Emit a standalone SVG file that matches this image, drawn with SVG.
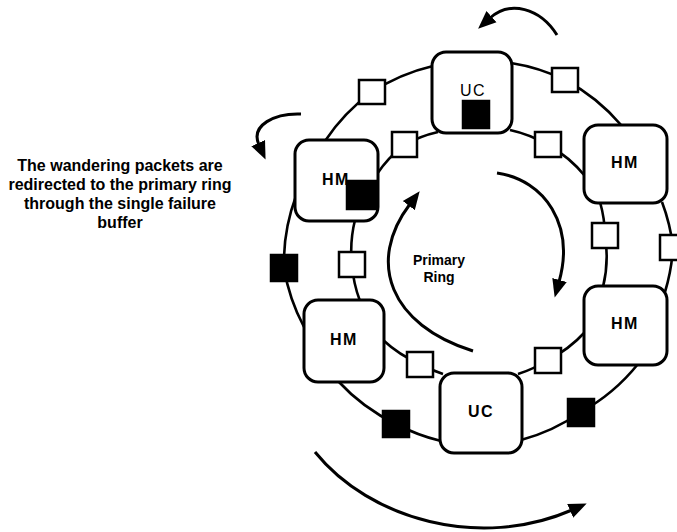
<svg xmlns="http://www.w3.org/2000/svg" width="677" height="532" viewBox="0 0 677 532">
<style>
  .ring { fill: none; stroke: #000; stroke-width: 2.6; }
  .box { fill: #fff; stroke: #000; stroke-width: 3; }
  .sq { fill: #fff; stroke: #000; stroke-width: 2.5; }
  .bsq { fill: #000; stroke: #000; stroke-width: 2.5; }
  .arrow { fill: none; stroke: #000; stroke-width: 3; }
  .lbl { font-family: "Liberation Sans", Arial, sans-serif; font-size: 16px; font-weight: bold; letter-spacing: 1.5px; text-anchor: middle; fill: #000; }
  .note { font-family: "Liberation Sans", Arial, sans-serif; font-size: 16px; font-weight: bold; text-anchor: middle; fill: #000; }
  .pr { font-family: "Liberation Sans", Arial, sans-serif; font-size: 14px; font-weight: bold; text-anchor: middle; fill: #000; }
</style>
<defs>
  <marker id="ah" markerUnits="userSpaceOnUse" markerWidth="20" markerHeight="18" viewBox="0 -9 20 18" refX="2" refY="0" orient="auto">
    <path d="M0,-7.5 L18,0 L0,7.5 z" fill="#000"/>
  </marker>
</defs>
<rect width="677" height="532" fill="#fff"/>

<g id="connectors">
  <path class="ring" d="M 325 141 A 192 192 0 0 1 372 92"/>
  <path class="ring" d="M 372 92 A 192 192 0 0 1 433 66"/>
  <path class="ring" d="M 511 63 A 192 192 0 0 1 565 80"/>
  <path class="ring" d="M 565 80 A 192 192 0 0 1 622 126"/>
  <path class="ring" d="M 662 202 A 192 192 0 0 1 673 247"/>
  <path class="ring" d="M 673 247 A 192 192 0 0 1 665 292"/>
  <path class="ring" d="M 638 364 A 192 192 0 0 1 581 412"/>
  <path class="ring" d="M 581 412 A 192 192 0 0 1 521 440"/>
  <path class="ring" d="M 441 441 A 192 192 0 0 1 396 424"/>
  <path class="ring" d="M 396 424 A 192 192 0 0 1 338 381"/>
  <path class="ring" d="M 304 327 A 192 192 0 0 1 284 268"/>
  <path class="ring" d="M 284 268 A 192 192 0 0 1 296 196"/>

  <path class="ring" d="M 377 174 A 128 128 0 0 1 404 145"/>
  <path class="ring" d="M 404 145 A 128 128 0 0 1 438 132"/>
  <path class="ring" d="M 510 130 A 128 128 0 0 1 548 145"/>
  <path class="ring" d="M 548 145 A 128 128 0 0 1 585 176"/>
  <path class="ring" d="M 600 202 A 128 128 0 0 1 605 236"/>
  <path class="ring" d="M 605 236 A 128 128 0 0 1 603 287"/>
  <path class="ring" d="M 585 332 A 128 128 0 0 1 548 360"/>
  <path class="ring" d="M 548 360 A 128 128 0 0 1 518 374"/>
  <path class="ring" d="M 443 374 A 128 128 0 0 1 420 364"/>
  <path class="ring" d="M 420 364 A 128 128 0 0 1 383 340"/>
  <path class="ring" d="M 360 301 A 128 128 0 0 1 352 265"/>
  <path class="ring" d="M 352 265 A 128 128 0 0 1 355 220"/>
</g>

<g id="uc_top">
  <rect class="box" x="432" y="52" width="80" height="81" rx="14"/>
  <text class="lbl" x="473" y="96" style="font-weight:normal">UC</text>
  <rect class="bsq" x="463" y="101" width="26" height="27"/>
</g>
<g id="hm_top_right">
  <rect class="box" x="584" y="125" width="83" height="78" rx="14"/>
  <text class="lbl" x="625" y="168">HM</text>
</g>
<g id="hm_bottom_right">
  <rect class="box" x="584" y="286" width="83" height="79" rx="14"/>
  <text class="lbl" x="625" y="329">HM</text>
</g>
<g id="uc_bottom">
  <rect class="box" x="440" y="373" width="82" height="80" rx="14"/>
  <text class="lbl" x="481" y="417">UC</text>
</g>
<g id="hm_bottom_left">
  <rect class="box" x="304" y="300" width="80" height="82" rx="14"/>
  <text class="lbl" x="344" y="345">HM</text>
</g>
<g id="hm_top_left">
  <rect class="box" x="295" y="140" width="83" height="81" rx="14"/>
  <text class="lbl" x="336" y="185">HM</text>
  <rect class="bsq" x="347" y="181" width="30" height="28"/>
</g>

<g id="buffers_outer">
  <rect id="b_o1" class="sq" x="359" y="80" width="26" height="24"/>
  <rect id="b_o2" class="sq" x="552" y="68" width="26" height="24"/>
  <rect id="b_o3" class="sq" x="660" y="235" width="26" height="25"/>
  <rect id="b_o4" class="bsq" x="568" y="399" width="26" height="27"/>
  <rect id="b_o5" class="bsq" x="383" y="411" width="26" height="26"/>
  <rect id="b_o6" class="bsq" x="271" y="255" width="26" height="26"/>
</g>
<g id="buffers_inner">
  <rect id="b_i1" class="sq" x="392" y="132" width="25" height="25"/>
  <rect id="b_i2" class="sq" x="535" y="132" width="26" height="25"/>
  <rect id="b_i3" class="sq" x="592" y="223" width="26" height="25"/>
  <rect id="b_i4" class="sq" x="535" y="348" width="26" height="25"/>
  <rect id="b_i5" class="sq" x="407" y="352" width="26" height="25"/>
  <rect id="b_i6" class="sq" x="339" y="252" width="26" height="25"/>
</g>

<g id="arrows">
  <path class="arrow" d="M 557 35 C 540 8, 510 0, 490 18" marker-end="url(#ah)"/>
  <path class="arrow" d="M 301 114 C 275 113, 250 125, 259 145" marker-end="url(#ah)"/>
  <path class="arrow" d="M 473 351 C 390 325, 366 262, 410 204" marker-end="url(#ah)"/>
  <path class="arrow" d="M 497 173 C 545 180, 575 225, 559 282" marker-end="url(#ah)"/>
  <path class="arrow" d="M 315 452 C 370 520, 480 550, 572 510" marker-end="url(#ah)"/>
</g>

<g id="primary_ring_label">
  <text class="pr" x="439" y="265">Primary</text>
  <text class="pr" x="439" y="282">Ring</text>
</g>

<g id="note">
  <text class="note" x="120" y="171">The wandering packets are</text>
  <text class="note" x="120" y="190">redirected to the primary ring</text>
  <text class="note" x="120" y="209">through the single failure</text>
  <text class="note" x="120" y="228">buffer</text>
</g>
</svg>
